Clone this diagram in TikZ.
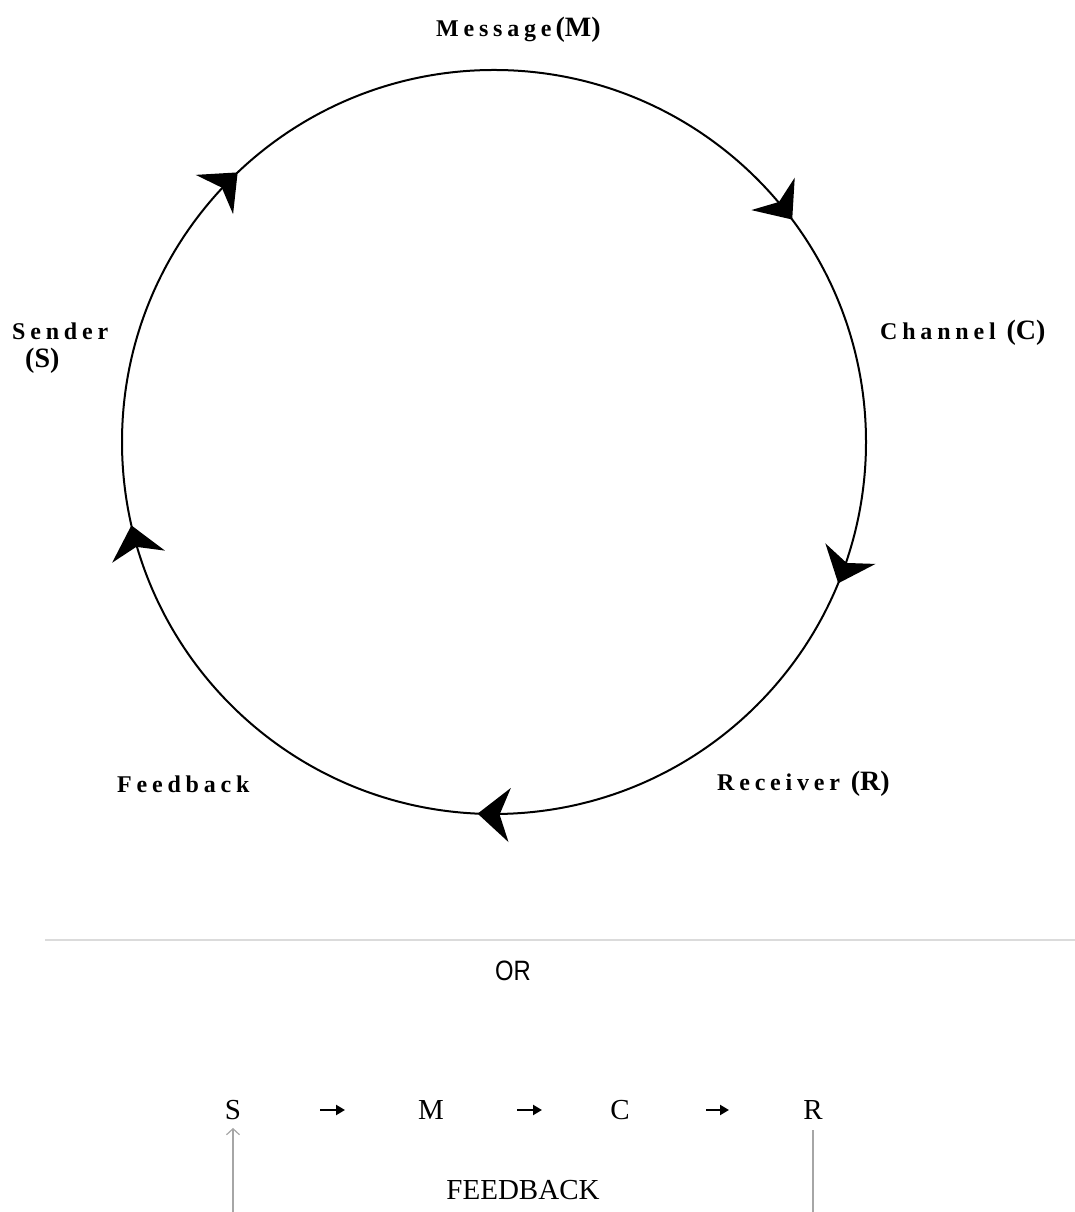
\documentclass[tikz,border=0pt]{standalone}
\usepackage{fontspec}
\setmainfont{Liberation Serif}
\newfontfamily\spacedbold[LetterSpace=20]{Liberation Serif}
\newfontfamily\narrowsans[FakeStretch=0.85]{Liberation Sans}
\usetikzlibrary{arrows.meta,decorations.markings}

% bold parenthesised initial beside a ring label
\newcommand\initial[1]{{\rmfamily\fontsize{28}{30}\selectfont\bfseries(#1)}}

\begin{document}
\begin{tikzpicture}[x=1pt,y=1pt,
  ring/.style={line width=2pt, draw=black,
    decoration={markings,
      mark=at position 0.062 with {\arrow{Stealth[length=32pt,width=54pt,inset=10pt]}},
      mark=at position 0.257 with {\arrow{Stealth[length=32pt,width=54pt,inset=10pt]}},
      mark=at position 0.464 with {\arrow{Stealth[length=32pt,width=54pt,inset=10pt]}},
      mark=at position 0.629 with {\arrow{Stealth[length=32pt,width=54pt,inset=10pt]}},
      mark=at position 0.898 with {\arrow{Stealth[length=32pt,width=54pt,inset=10pt]}}},
    postaction={decorate}},
  ringlabel/.style={inner sep=0pt, anchor=west,
    font=\fontsize{24}{26}\selectfont\spacedbold\bfseries},
  rowletter/.style={inner sep=0pt, font=\fontsize{29}{32}\selectfont},
  flow/.style={line width=2.8pt, -{Triangle[length=9pt,width=10pt]}},
  fbline/.style={line width=1.4pt, draw=black!35},
  divider/.style={line width=2pt, draw=black!14}]

\useasboundingbox (0,0) rectangle (1075,1212);

% communication cycle
\coordinate (ctr) at (494,770);
\draw[ring] (ctr) ++(0:372) arc[start angle=0, end angle=-360, radius=372];

\node[ringlabel] (msg) at (436,1182) {Message\,\initial{M}};
\node[ringlabel, align=left] (snd) at (12,864) {Sender\\[2pt]\hspace{13pt}\initial{S}};
\node[ringlabel] (chn) at (880,879) {Channel \initial{C}};
\node[ringlabel] (fdb) at (117,428) {Feedback};
\node[ringlabel] (rcv) at (717,428) {Receiver \initial{R}};

% separator
\coordinate (divL) at (45,272);
\coordinate (divR) at (1075,272);
\draw[divider] (divL) -- (divR);
\node[inner sep=0pt, font=\fontsize{28}{30}\selectfont\narrowsans] (or) at (513,241) {OR};

% linear form
\node[rowletter] (S) at (233,102) {S};
\node[rowletter] (M) at (431,102) {M};
\node[rowletter] (C) at (620,102) {C};
\node[rowletter] (R) at (813,102) {R};
\draw[flow, shorten <=87pt, shorten >=86pt] (S.center) -- (M.center);
\draw[flow, shorten <=86pt, shorten >=78pt] (M.center) -- (C.center);
\draw[flow, shorten <=86pt, shorten >=84pt] (C.center) -- (R.center);

\node[inner sep=0pt, font=\fontsize{29}{32}\selectfont] (fbtext) at (523,22) {FEEDBACK};
\coordinate (fbL) at (233,0);
\coordinate (fbR) at (813,0);
\draw[fbline] (R.south) ++(0,-10) coordinate (rdrop) (fbR) -- (rdrop);
\draw[fbline, -{Straight Barb[length=6pt,width=13pt,line width=1.2pt]}, shorten >=8pt] (fbL) -- (S.south);

\end{tikzpicture}
\end{document}
